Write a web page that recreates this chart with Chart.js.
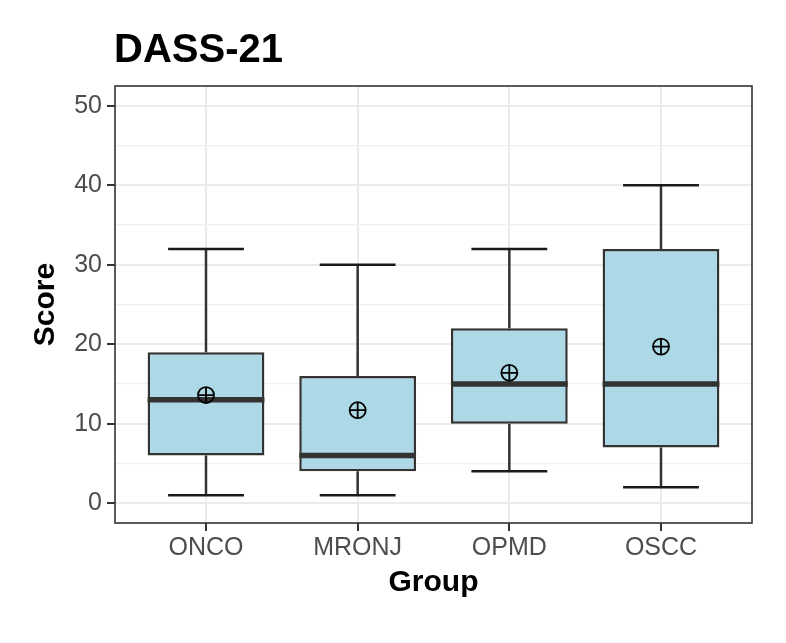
<!DOCTYPE html>
<html>
<head>
<meta charset="utf-8">
<title>DASS-21</title>
<script src="https://cdn.jsdelivr.net/npm/chart.js@4"></script>
<style>
  body { margin: 0; background: #ffffff; }
  canvas { display: block; }
</style>
</head>
<body>
<canvas id="chartArea" width="786" height="643"></canvas>
<script>
const chartArea = document.getElementById("chartArea");

// box plot summary per group
var groups = ["ONCO", "MRONJ", "OPMD", "OSCC"];
var whiskerLow = [1, 1, 4, 2];
var q1 = [6, 4, 10, 7];
var medians = [13, 6, 15, 15];
var q3 = [19, 16, 22, 32];
var whiskerHigh = [32, 30, 32, 40];
var means = [13.6, 11.7, 16.4, 19.7];
var yTicks = [0, 5, 10, 15, 20, 25, 30, 35, 40, 45, 50];

var fontFamily = '"Liberation Sans", Arial, Helvetica, sans-serif';

//whiskers and caps go under the boxes, median right after the boxes
var boxPlugin = {
    id: 'boxParts',
    beforeDatasetsDraw: function (chart) {
        var ctx = chart.ctx;
        var xs = chart.scales.x;
        var ys = chart.scales.y;
        ctx.save();
        for (var i = 0; i < groups.length; i++) {
            var x = xs.getPixelForValue(i + 1);
            ctx.strokeStyle = '#333333';
            ctx.lineWidth = 2.5;
            ctx.beginPath();
            ctx.moveTo(x, ys.getPixelForValue(whiskerLow[i]));
            ctx.lineTo(x, ys.getPixelForValue(q1[i]));
            ctx.moveTo(x, ys.getPixelForValue(q3[i]));
            ctx.lineTo(x, ys.getPixelForValue(whiskerHigh[i]));
            ctx.stroke();
            // caps
            ctx.strokeStyle = '#1a1a1a';
            ctx.beginPath();
            var l = xs.getPixelForValue(i + 1 - 0.25);
            var r = xs.getPixelForValue(i + 1 + 0.25);
            ctx.moveTo(l, ys.getPixelForValue(whiskerLow[i]));
            ctx.lineTo(r, ys.getPixelForValue(whiskerLow[i]));
            ctx.moveTo(l, ys.getPixelForValue(whiskerHigh[i]));
            ctx.lineTo(r, ys.getPixelForValue(whiskerHigh[i]));
            ctx.stroke();
        }
        ctx.restore();
    },
    afterDatasetDraw: function (chart, args) {
        if (args.meta.type !== 'bar') return;
        var ctx = chart.ctx;
        var xs = chart.scales.x;
        var ys = chart.scales.y;
        ctx.save();
        ctx.strokeStyle = '#333333';
        ctx.lineWidth = 5.5;
        ctx.beginPath();
        for (var i = 0; i < groups.length; i++) {
            var y = ys.getPixelForValue(medians[i]);
            ctx.moveTo(xs.getPixelForValue(i + 1 - 0.385), y);
            ctx.lineTo(xs.getPixelForValue(i + 1 + 0.385), y);
        }
        ctx.stroke();
        ctx.restore();
    },
    afterDraw: function (chart) {
        var ctx = chart.ctx;
        var a = chart.chartArea;
        ctx.save();
        ctx.strokeStyle = '#333333';
        ctx.lineWidth = 1.6;
        ctx.strokeRect(a.left, a.top, a.right - a.left, a.bottom - a.top);
        // plot title
        ctx.fillStyle = '#000000';
        ctx.font = 'bold 40px ' + fontFamily;
        ctx.textAlign = 'left';
        ctx.textBaseline = 'alphabetic';
        ctx.fillText('DASS-21', a.left - 1, 62);
        ctx.restore();
    }
};

var boxData = [];
var meanData = [];
for (var i = 0; i < groups.length; i++) {
    boxData.push({ x: i + 1, y: [q1[i], q3[i]] });
    meanData.push({ x: i + 1, y: means[i] });
}

var boxChart = new Chart(chartArea, {
    type: 'bar',
    data: {
        datasets: [{
            type: 'bar',
            data: boxData,
            order: 3,
            backgroundColor: '#ADD8E6',
            borderColor: '#333333',
            borderWidth: 2.5,
            borderSkipped: false,
            categoryPercentage: 1,
            barPercentage: 0.77
        }, {
            type: 'scatter',
            data: meanData,
            order: 2,
            pointStyle: 'circle',
            pointRadius: 8,
            pointBorderWidth: 1.8,
            pointBorderColor: '#000000',
            pointBackgroundColor: 'rgba(0,0,0,0)'
        }, {
            type: 'scatter',
            data: meanData,
            order: 1,
            pointStyle: 'cross',
            pointRadius: 8,
            pointBorderWidth: 1.8,
            pointBorderColor: '#000000'
        }]
    },
    options: {
        responsive: false,
        animation: false,
        devicePixelRatio: 1,
        layout: { padding: { left: 0, right: 34, top: 86, bottom: 0 } },
        plugins: {
            legend: { display: false },
            tooltip: { enabled: false },
            title: { display: false }
        },
        scales: {
            x: {
                type: 'linear',
                min: 0.4,
                max: 4.6,
                offset: false,
                afterBuildTicks: function (scale) {
                    scale.ticks = groups.map(function (g, i) { return { value: i + 1 }; });
                },
                afterFit: function (scale) { scale.height = 120; },
                ticks: {
                    padding: 2,
                    color: '#4D4D4D',
                    font: { family: fontFamily, size: 25 },
                    maxRotation: 0,
                    autoSkip: false,
                    callback: function (value) { return groups[value - 1]; }
                },
                grid: {
                    offset: false,
                    color: '#EBEBEB',
                    lineWidth: 2,
                    tickColor: '#333333',
                    tickLength: 8,
                    tickWidth: 2
                },
                border: { display: false },
                title: {
                    display: true,
                    text: 'Group',
                    color: '#000000',
                    font: { family: fontFamily, size: 30, weight: 'bold' },
                    padding: { top: 0, bottom: 42 }
                }
            },
            y: {
                min: -2.5,
                max: 52.5,
                afterBuildTicks: function (scale) {
                    scale.ticks = yTicks.map(function (v) { return { value: v }; });
                },
                afterFit: function (scale) { scale.width = 115; },
                ticks: {
                    padding: 5,
                    color: '#4D4D4D',
                    font: { family: fontFamily, size: 25 },
                    callback: function (value) { return value % 10 === 0 ? value : ''; }
                },
                grid: {
                    color: function (c) { return c.tick && c.tick.value % 10 === 0 ? '#EBEBEB' : '#F0F0F0'; },
                    lineWidth: function (c) { return c.tick && c.tick.value % 10 === 0 ? 2 : 1.2; },
                    tickColor: function (c) { return c.tick && c.tick.value % 10 === 0 ? '#333333' : 'rgba(0,0,0,0)'; },
                    tickLength: 8,
                    tickWidth: 2
                },
                border: { display: false },
                title: {
                    display: true,
                    text: 'Score',
                    color: '#000000',
                    font: { family: fontFamily, size: 30, weight: 'bold' },
                    padding: { top: 28, bottom: 0 }
                }
            }
        }
    },
    plugins: [boxPlugin]
});
</script>
</body>
</html>
